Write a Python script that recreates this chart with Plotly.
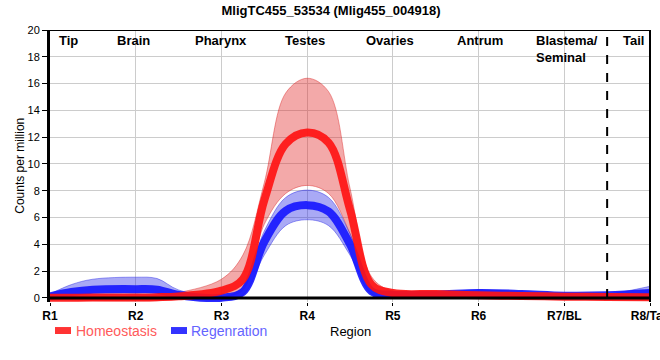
import plotly.graph_objects as go

# ---------------- data ----------------
positions = [1, 1.25, 1.5, 2, 2.25, 2.5, 3, 3.25, 3.5, 3.75, 4, 4.25, 4.5, 4.75, 5,
             5.5, 6, 6.5, 7, 7.5, 8]
tick_vals = [1, 2, 3, 4, 5, 6, 7, 8]
tick_labels = ["R1", "R2", "R3", "R4", "R5", "R6", "R7/BL", "R8/Tail"]

homeo_mean = [0.02, 0.02, 0.03, 0.04, 0.06, 0.12, 0.55, 1.4, 7.3, 11.5, 12.35, 11.6, 6.6,
              1.0, 0.37, 0.3, 0.2, 0.15, 0.1, 0.08, 0.05]
homeo_upper = [0.12, 0.12, 0.12, 0.12, 0.2, 0.4, 1.4, 3.2, 8.6, 15.3, 16.4, 15.4, 8.2,
               1.6, 0.5, 0.4, 0.3, 0.25, 0.15, 0.15, 0.15]
homeo_lower = [-0.1, -0.15, -0.2, -0.22, -0.2, -0.1, 0.05, 0.6, 5.5, 7.8, 8.4, 7.8, 4.8,
               0.6, 0.25, 0.2, 0.1, 0.08, 0.05, 0.0, -0.15]

regen_mean = [0.13, 0.45, 0.62, 0.66, 0.62, 0.22, 0.02, 0.45, 4.2, 6.5, 6.93, 6.45, 4.0,
              0.5, 0.25, 0.25, 0.37, 0.3, 0.17, 0.2, 0.37]
regen_upper = [0.3, 1.0, 1.4, 1.55, 1.45, 0.6, 0.1, 0.8, 5.0, 7.5, 8.05, 7.5, 4.8,
               0.8, 0.4, 0.4, 0.6, 0.47, 0.25, 0.3, 0.87]
regen_lower = [0.0, 0.1, 0.2, 0.2, 0.18, 0.0, -0.15, 0.2, 3.2, 5.4, 5.84, 5.4, 3.2,
               0.3, 0.1, 0.1, 0.2, 0.15, 0.1, 0.1, 0.1]

region_names = ["Tip", "Brain", "Pharynx", "Testes", "Ovaries", "Antrum",
                "Blastema/<br>Seminal", "Tail"]
region_name_pos = [1.22, 1.97, 3.0, 3.98, 4.97, 6.02, 7.03, 7.81]

series_names = ["Homeostasis", "Regenration"]

# ---------------- layout constants ----------------
W, H = 660, 360
L, R, T = 50, 10, 30
Y0, Y1 = -0.3, 20.0
PX_PER_UNIT = 13.42
plot_h = (Y1 - Y0) * PX_PER_UNIT
B = H - T - plot_h
plot_w = W - L - R

FONT = "Liberation Sans, Arial, sans-serif"


def px_x(px):
    return (px - L) / plot_w


def px_y(py):
    return (T + plot_h - py) / plot_h


RED = "rgba(255,20,20,0.92)"
BLUE = "rgba(20,20,255,0.9)"
RED_FILL = "rgba(225,40,40,0.4)"
BLUE_FILL = "rgba(40,40,230,0.4)"
RED_EDGE = "rgba(220,40,40,0.45)"
BLUE_EDGE = "rgba(40,40,230,0.45)"

fig = go.Figure()


def add_band(upper, lower, edge, fill):
    fig.add_trace(go.Scatter(x=positions, y=upper, mode="lines",
                             line=dict(color=edge, width=1, shape="spline"),
                             showlegend=False, hoverinfo="skip"))
    fig.add_trace(go.Scatter(x=positions, y=lower, mode="lines",
                             line=dict(color=edge, width=1, shape="spline"),
                             fill="tonexty", fillcolor=fill,
                             showlegend=False, hoverinfo="skip"))


add_band(homeo_upper, homeo_lower, RED_EDGE, RED_FILL)
add_band(regen_upper, regen_lower, BLUE_EDGE, BLUE_FILL)

fig.add_trace(go.Scatter(x=positions, y=regen_mean, mode="lines", name=series_names[1],
                         line=dict(color=BLUE, width=8, shape="spline"),
                         showlegend=False))
fig.add_trace(go.Scatter(x=positions, y=homeo_mean, mode="lines", name=series_names[0],
                         line=dict(color=RED, width=8, shape="spline"),
                         showlegend=False))

annotations = []
for name, xpos in zip(region_names, region_name_pos):
    annotations.append(dict(x=xpos, y=20, xref="x", yref="y", yanchor="top",
                            yshift=-1, text="<b>" + name + "</b>", showarrow=False,
                            align="left", font=dict(family=FONT, size=13, color="black")))

# axis titles
annotations.append(dict(x=px_x(20), y=px_y(166), xref="paper", yref="paper",
                        text="Counts per million", textangle=-90, showarrow=False,
                        xanchor="center", yanchor="middle",
                        font=dict(family=FONT, size=12, color="black")))
annotations.append(dict(x=px_x(350.7), y=px_y(331.5), xref="paper", yref="paper",
                        text="Region", showarrow=False, xanchor="center", yanchor="middle",
                        font=dict(family=FONT, size=13, color="black")))

# legend (manual)
legend_items = [
    (series_names[0], 55, 71, 74, "#ff3333", "#ff5a5a"),
    (series_names[1], 171, 187, 189, "#3333ff", "#6464ff"),
]
shapes = []
for name, sx0, sx1, tx, swatch, tcol in legend_items:
    shapes.append(dict(type="rect", xref="paper", yref="paper",
                       x0=px_x(sx0), x1=px_x(sx1), y0=px_y(334.5), y1=px_y(327.5),
                       fillcolor=swatch, line=dict(width=0)))
    annotations.append(dict(x=px_x(tx), y=px_y(331), xref="paper", yref="paper",
                            text=name, showarrow=False, xanchor="left", yanchor="middle",
                            font=dict(family=FONT, size=14, color=tcol)))

# frame lines and dashed separator
shapes.append(dict(type="line", xref="x", yref="y", x0=7.5, x1=7.5, y0=0, y1=20,
                   line=dict(color="black", width=2, dash="dash"), layer="above"))
shapes.append(dict(type="line", xref="paper", yref="y", x0=0, x1=1, y0=0, y1=0,
                   line=dict(color="black", width=3), layer="above"))
shapes.append(dict(type="line", xref="paper", yref="y", x0=0, x1=1, y0=20, y1=20,
                   line=dict(color="black", width=2), layer="above"))
shapes.append(dict(type="line", xref="paper", yref="paper", x0=1, x1=1, y0=0, y1=1,
                   line=dict(color="black", width=2), layer="above"))

fig.update_layout(
    width=W, height=H,
    margin=dict(l=L, r=R, t=T, b=B, pad=0, autoexpand=False),
    paper_bgcolor="white", plot_bgcolor="white",
    title=dict(text="<b>MligTC455_53534 (Mlig455_004918)</b>",
               x=331 / W, xanchor="center", y=1 - 10 / H, yanchor="middle",
               font=dict(family=FONT, size=13, color="black")),
    font=dict(family=FONT, color="black"),
    showlegend=False,
    annotations=annotations,
    shapes=shapes,
    xaxis=dict(range=[1, 8], tickvals=tick_vals, ticktext=tick_labels,
               showgrid=True, gridcolor="#cccccc", gridwidth=1,
               zeroline=False, showline=False, automargin=False,
               ticks="outside", ticklen=3, tickcolor="black",
               ticklabeloverflow="allow",
               tickfont=dict(family=FONT, size=12, color="black", weight="bold")),
    yaxis=dict(range=[Y0, Y1], tickvals=list(range(0, 21, 2)),
               showgrid=True, gridcolor="#cccccc", gridwidth=1, automargin=False,
               zeroline=False, showline=True, linecolor="black", linewidth=3,
               ticks="outside", ticklen=5, tickcolor="black",
               tickfont=dict(family=FONT, size=11, color="black")),
)

fig.write_html("out.html", config={"displayModeBar": False},
               post_script="document.body.style.margin='0px';")
